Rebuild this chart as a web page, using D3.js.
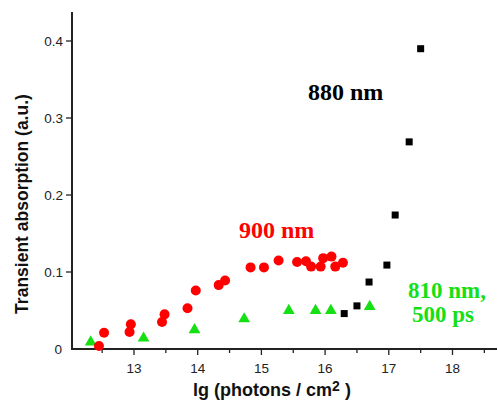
<!DOCTYPE html>
<html>
<head>
<meta charset="utf-8">
<script src="https://cdn.jsdelivr.net/npm/d3@7"></script>
<style>
  body { margin: 0; background: #fff; }
  svg { display: block; }
  .axis path, .axis line { stroke: #222; }
  .axis text { font-family: Arial, "Liberation Sans", sans-serif; font-size: 13.5px; fill: #222; }
</style>
</head>
<body>
<svg id="chart" width="498" height="402"></svg>
<script>
// 900 nm (red circles)
var red900 = [
  [12.45, 0.004], [12.53, 0.021], [12.93, 0.022], [12.95, 0.032],
  [13.44, 0.035], [13.48, 0.045], [13.84, 0.053], [13.97, 0.076],
  [14.33, 0.083], [14.43, 0.089], [14.83, 0.106], [15.04, 0.106],
  [15.27, 0.115], [15.56, 0.113], [15.70, 0.114], [15.78, 0.107],
  [15.93, 0.107], [15.97, 0.118], [16.10, 0.120], [16.16, 0.107],
  [16.28, 0.112]
];
// 810 nm, 500 ps (green triangles)
var green810 = [
  [12.32, 0.009], [13.15, 0.014], [13.95, 0.025], [14.73, 0.039],
  [15.43, 0.050], [15.85, 0.050], [16.09, 0.050], [16.70, 0.055]
];
// 880 nm (black squares)
var black880 = [
  [16.30, 0.046], [16.50, 0.056], [16.69, 0.087], [16.97, 0.109],
  [17.10, 0.174], [17.32, 0.269], [17.50, 0.390]
];
var xTicks = [13, 14, 15, 16, 17, 18];
var xMinor = [12.5, 13.5, 14.5, 15.5, 16.5, 17.5, 18.5];
var yTicks = [0, 0.1, 0.2, 0.3, 0.4];

var svg = d3.select('#chart');
var left = 72, bottom = 349;

var x = d3.scaleLinear().domain([13, 18]).range([134, 452.5]);
var y = d3.scaleLinear().domain([0, 0.4]).range([bottom, 41]);
var xMax = x.invert(497);
var yMax = y.invert(12);

// axes
var xAxis = svg.append('g').attr('class', 'axis')
  .attr('transform', 'translate(0,' + bottom + ')');
xAxis.append('line').attr('x1', left).attr('x2', 497).attr('stroke-width', 2);
xAxis.selectAll('.minor').data(xMinor.filter(function(d) { return d < xMax; }))
  .enter().append('line').attr('class', 'minor')
  .attr('x1', x).attr('x2', x).attr('y2', 4).attr('stroke-width', 1.3);
xAxis.selectAll('.major').data(xTicks).enter().append('line').attr('class', 'major')
  .attr('x1', x).attr('x2', x).attr('y2', 6).attr('stroke-width', 1.3);
xAxis.selectAll('text').data(xTicks).enter().append('text')
  .attr('x', x).attr('y', 24).attr('text-anchor', 'middle')
  .text(function(d) { return d; });

var yAxis = svg.append('g').attr('class', 'axis')
  .attr('transform', 'translate(' + left + ',0)');
yAxis.append('line').attr('y1', y(yMax)).attr('y2', bottom + 1).attr('stroke-width', 2);
yAxis.selectAll('.major').data(yTicks.slice(1)).enter().append('line').attr('class', 'major')
  .attr('y1', y).attr('y2', y).attr('x2', -6).attr('stroke-width', 1.3);
yAxis.selectAll('text').data(yTicks).enter().append('text')
  .attr('x', function(d) { return d === 0 ? -10 : -9; })
  .attr('y', function(d) { return y(d) + 5; })
  .attr('text-anchor', 'end')
  .text(function(d) { return d === 0 ? '0' : d3.format('.1f')(d); });

// axis titles
svg.append('text')
  .attr('transform', 'translate(28,' + 204 + ') rotate(-90)')
  .attr('text-anchor', 'middle')
  .style('font-family', 'Arial, "Liberation Sans", sans-serif')
  .style('font-weight', 'bold').style('font-size', '17.5px').attr('fill', '#111')
  .text('Transient absorption (a.u.)');

var xt = svg.append('text')
  .attr('x', 272).attr('y', 396).attr('text-anchor', 'middle')
  .style('font-family', 'Arial, "Liberation Sans", sans-serif')
  .style('font-weight', 'bold').style('font-size', '18px').attr('fill', '#111');
xt.append('tspan').text('lg (photons / cm');
xt.append('tspan').attr('dy', -5).style('font-size', '14px').text('2');
xt.append('tspan').attr('dy', 5).text(' )');

// markers
var marks = svg.append('g');
marks.selectAll('.tri').data(green810).enter().append('path')
  .attr('class', 'tri')
  .attr('d', d3.symbol().type(d3.symbolTriangle).size(60))
  .attr('transform', function(d) { return 'translate(' + x(d[0]) + ',' + y(d[1]) + ')'; })
  .attr('fill', '#14e014');
marks.selectAll('.sq').data(black880).enter().append('rect')
  .attr('class', 'sq')
  .attr('x', function(d) { return x(d[0]) - 3.5; })
  .attr('y', function(d) { return y(d[1]) - 3.5; })
  .attr('width', 7).attr('height', 7).attr('fill', '#000');
marks.selectAll('.dot').data(red900).enter().append('circle')
  .attr('class', 'dot')
  .attr('cx', function(d) { return x(d[0]); })
  .attr('cy', function(d) { return y(d[1]); })
  .attr('r', 5).attr('fill', '#f00');

// series labels
function label(txt, px, py, color, size) {
  svg.append('text').attr('x', px).attr('y', py)
    .style('font-family', '"Liberation Serif", "Times New Roman", serif')
    .style('font-weight', 'bold').style('font-size', (size || 24) + 'px')
    .attr('fill', color).text(txt);
}
label('880 nm', 308, 100, '#000');
label('900 nm', 239, 238, '#f00');
label('810 nm,', 408, 298, '#14e014', 23);
label('500 ps', 412, 322, '#14e014', 23);
</script>
</body>
</html>
